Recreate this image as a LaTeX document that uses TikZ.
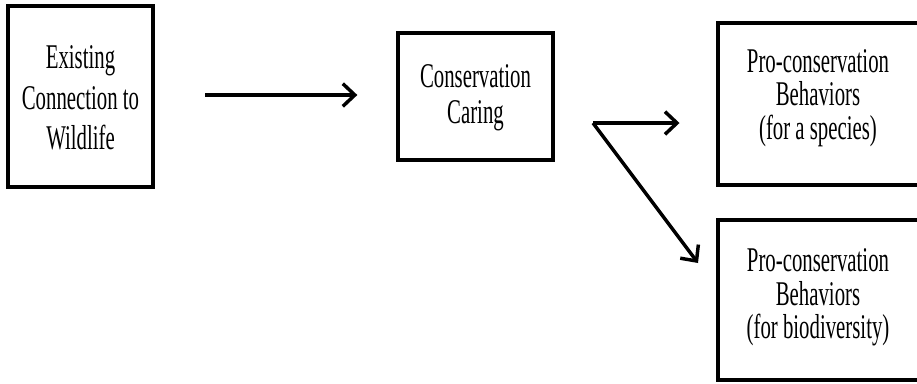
\documentclass[tikz,border=0pt]{standalone}
\usepackage{fontspec}
\setmainfont{Liberation Serif}[FakeStretch=0.6]
\usetikzlibrary{arrows.meta,calc}
\tikzset{
  box/.style={draw=black, line width=3pt, inner sep=0pt},
  boxtext/.style={align=center, font=\fontsize{26}{#1}\selectfont},
  arr/.style={line width=2.6pt, -{Straight Barb[length=9pt,width=17pt]}}
}
\begin{document}
\begin{tikzpicture}[x=0.75pt,y=-0.75pt]
\useasboundingbox (0,0) rectangle (917,383);
\begin{scope}
\clip (0,0) rectangle (917,383);
\node[box, minimum width=108.75pt, minimum height=135.75pt,
  label={[boxtext=30.5pt, yshift=-1pt]center:Existing\\Connection to\\Wildlife}] (b1) at (80.5,96.5) {};
\node[box, minimum width=116.25pt, minimum height=95.25pt,
  label={[boxtext=27.5pt, yshift=-1pt]center:Conservation\\Caring}] (b2) at (475.5,96.5) {};
\node[box, minimum width=150.75pt, minimum height=121.5pt,
  label={[boxtext=25pt, yshift=4.5pt]center:Pro-conservation\\Behaviors\\(for a species)}] (b3) at (818,104) {};
\node[box, minimum width=150.75pt, minimum height=120pt,
  label={[boxtext=25pt, yshift=2pt]center:Pro-conservation\\Behaviors\\(for biodiversity)}] (b4) at (818,300) {};
\end{scope}
\coordinate (fork) at (593,123);
\coordinate (t4) at (698,263);
\draw[arr, shorten <=37.5pt, shorten >=29pt] (b1.east |- 0,95) -- (b2.west |- 0,95);
\draw[arr, shorten >=27pt] (fork) -- (fork -| b3.west);
\draw[arr] (fork) -- (t4);
\end{tikzpicture}
\end{document}
